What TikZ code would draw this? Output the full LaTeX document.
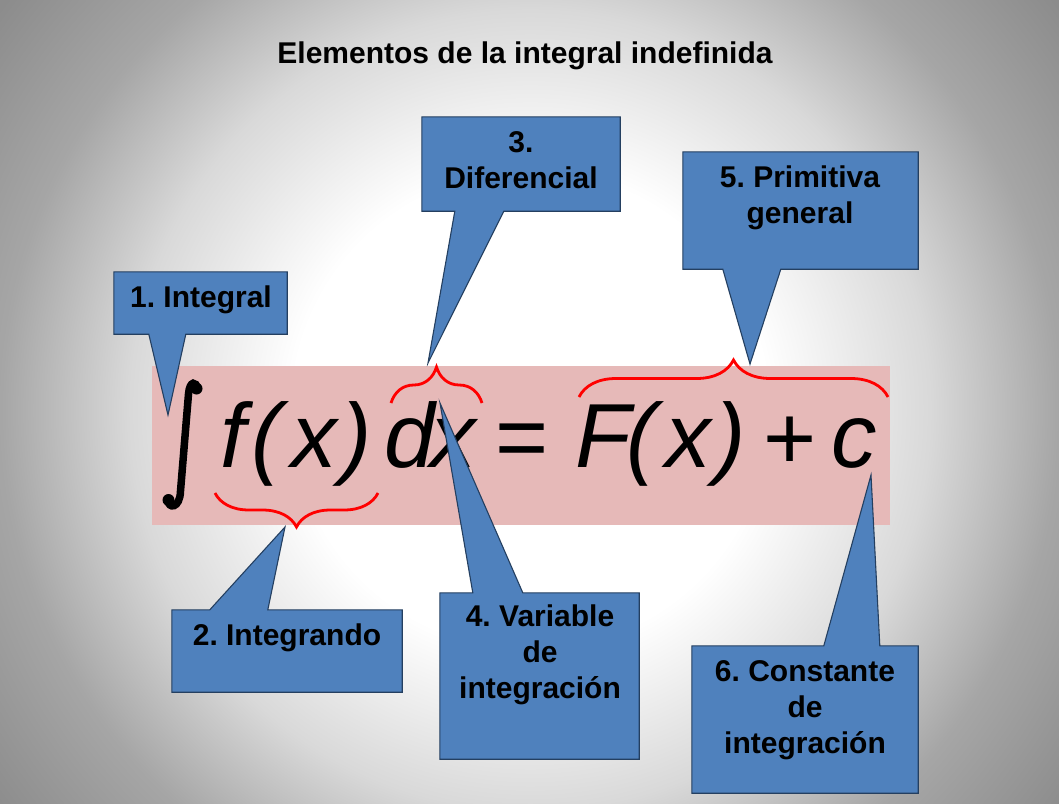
\documentclass[tikz,border=0pt]{standalone}
\usepackage{fontspec}
\setmainfont{Liberation Sans}
\usetikzlibrary{calc,decorations.pathreplacing}
\pgfdeclarelayer{bg}
\pgfdeclarelayer{formula}
\pgfdeclarelayer{shapes}
\pgfsetlayers{bg,formula,shapes,main}
\definecolor{calloutblue}{HTML}{4F81BD}
\definecolor{calloutline}{HTML}{243F60}
\definecolor{pinkband}{HTML}{E6B9B8}
\pgfdeclareradialshading{slidebg}{\pgfpoint{0bp}{0bp}}{color(0bp)=(white); color(8.5bp)=(white); color(14.3bp)=(black!15); color(18.9bp)=(black!35); color(23.7bp)=(black!45); color(25bp)=(black!46); color(50bp)=(black!46)}
\frenchspacing
\begin{document}
\begin{tikzpicture}[x=1pt,y=-1pt,
  lbl/.style={inner sep=0, anchor=base, align=center, text=black, font=\fontsize{30}{35.7}\selectfont\bfseries},
  callbox/.style={inner sep=0, draw=none},
  callout/.style={fill=calloutblue, draw=calloutline, line width=1.1pt, line join=miter},
  glyph/.style={inner sep=0, anchor=base, font=\fontsize{91}{100}\selectfont\itshape},
  sign/.style={inner sep=0, anchor=center, font=\fontsize{91}{100}\selectfont},
  redbrace/.style={draw=red, line width=2.8pt, decorate, decoration={brace, amplitude=#1}}]
\useasboundingbox (0,0) rectangle (1059,803);
\begin{pgfonlayer}{bg}
  \clip (0,0) rectangle (1059,803);
  \shade[shading=slidebg] (530,410) circle[radius=700];
\end{pgfonlayer}
\begin{pgfonlayer}{formula}
  \node[fill=pinkband, inner sep=0, minimum width=738, minimum height=159] (band) at (521,445.5) {};
  % integral sign
  \draw[line width=7.5pt, line cap=round] (197,389) .. controls (197,381) and (189.5,380) .. (188.5,394) -- (180.5,491) .. controls (180,509) and (168,509) .. (168,500);
  \fill (196.5,388.5) circle[radius=6];
  \fill (168.5,500) circle[radius=6];
  \node[glyph] (f1) at (233,467) {f};
  \node[glyph] (p1) at (267,467) {(};
  \node[glyph] (x1) at (314,467) {x};
  \node[glyph] (p2) at (357,467) {)};
  \node[glyph] (d1) at (410,467) {d};
  \node[glyph] (x2) at (453,467) {x};
  \node[sign] (eq) at (522,446) {=};
  \node[glyph] (F1) at (603,467) {F};
  \node[glyph] (p3) at (642,467) {(};
  \node[glyph] (x3) at (688,467) {x};
  \node[glyph] (p4) at (731,467) {)};
  \node[sign] (plus) at (790,443) {+};
  \node[glyph] (c1g) at (854,467) {c};
  \draw[redbrace=34] (378,493) -- (215,493);
  \draw[redbrace=36] (391,403) -- (482,403);
  \draw[redbrace=37] (579,397) -- (888,397);
\end{pgfonlayer}
% callout boxes
\node[callbox, minimum width=173, minimum height=62] (c1) at (200.5,303) {};
\node[callbox, minimum width=230, minimum height=82] (c2) at (287,651) {};
\node[callbox, minimum width=198, minimum height=94] (c3) at (521,164) {};
\node[callbox, minimum width=199, minimum height=166] (c4) at (539.5,676) {};
\node[callbox, minimum width=235, minimum height=117] (c5) at (800.5,210.5) {};
\node[callbox, minimum width=226, minimum height=147] (c6) at (805,719.5) {};
\coordinate (tip1) at (168,415);
\coordinate (tip2) at (285,527);
\coordinate (tip3) at (428,363);
\coordinate (tip4) at (440,403);
\coordinate (tip5) at (750,364);
\coordinate (tip6) at (871,475);
\begin{pgfonlayer}{shapes}
  \draw[callout] (c1.north west) -- (c1.north east) -- (c1.south east) -- ($(c1.south west)+(72,0)$) -- (tip1) -- ($(c1.south west)+(35,0)$) -- (c1.south west) -- cycle;
  \draw[callout] (c2.north west) -- ($(c2.north west)+(38,0)$) -- (tip2) -- ($(c2.north west)+(96,0)$) -- (c2.north east) -- (c2.south east) -- (c2.south west) -- cycle;
  \draw[callout] (c3.north west) -- (c3.north east) -- (c3.south east) -- ($(c3.south west)+(82,0)$) -- (tip3) -- ($(c3.south west)+(33,0)$) -- (c3.south west) -- cycle;
  \draw[callout] (c4.north west) -- ($(c4.north west)+(33,0)$) -- (tip4) -- ($(c4.north west)+(83,0)$) -- (c4.north east) -- (c4.south east) -- (c4.south west) -- cycle;
  \draw[callout] (c5.north west) -- (c5.north east) -- (c5.south east) -- ($(c5.south west)+(98,0)$) -- (tip5) -- ($(c5.south west)+(40,0)$) -- (c5.south west) -- cycle;
  \draw[callout] (c6.north west) -- ($(c6.north west)+(132,0)$) -- (tip6) -- ($(c6.north west)+(188,0)$) -- (c6.north east) -- (c6.south east) -- (c6.south west) -- cycle;
\end{pgfonlayer}
\node[lbl] (title) at (525,63) {Elementos de la integral indefinida};
\node[lbl] (t1) at (201,307) {1. Integral};
\node[lbl] (t2) at (287,645) {2. Integrando};
\node[lbl] (t3) at (521,188) {3.\\Diferencial};
\node[lbl] (t4) at (540,698) {4. Variable\\de\\integración};
\node[lbl] (t5) at (800,223) {5. Primitiva\\general};
\node[lbl] (t6) at (805,753) {6. Constante\\de\\integración};
\end{tikzpicture}
\end{document}
